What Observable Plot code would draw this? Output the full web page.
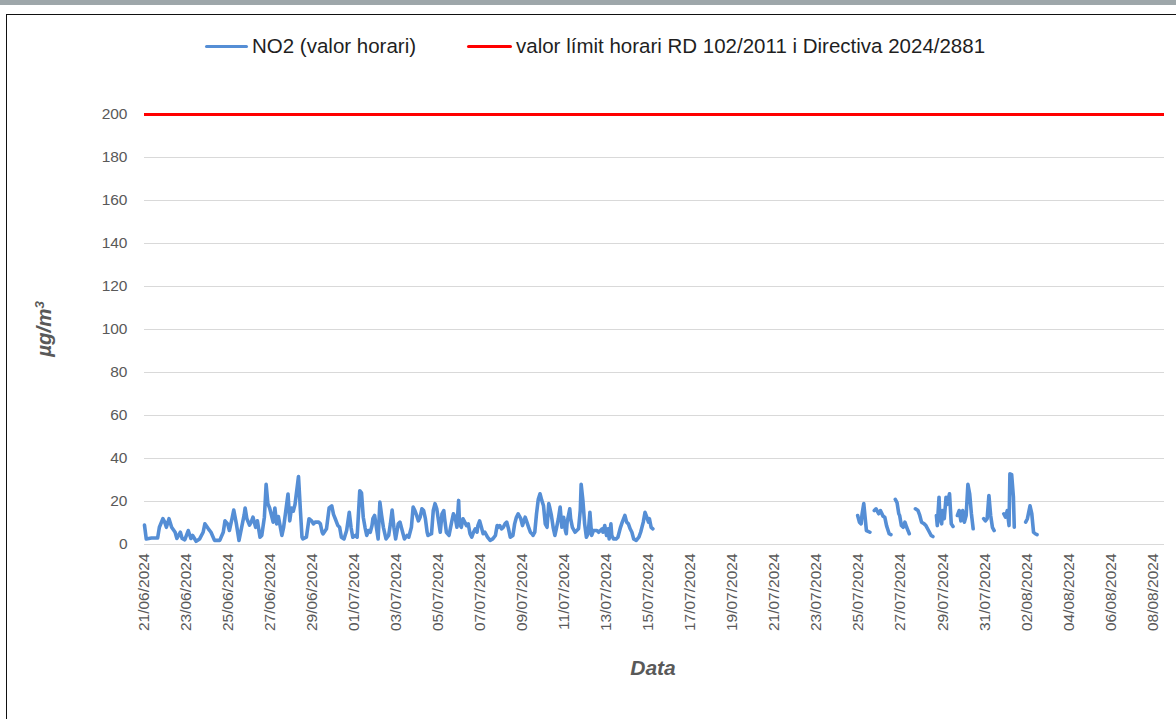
<!DOCTYPE html>
<html><head><meta charset="utf-8">
<script src="https://cdn.jsdelivr.net/npm/d3@7"></script>
<script src="https://cdn.jsdelivr.net/npm/@observablehq/plot@0.6"></script>
<style>
html,body{margin:0;padding:0;background:#fff;overflow:hidden;}
#wrap{position:relative;width:1176px;height:719px;overflow:hidden;font-family:"Liberation Sans",Arial,sans-serif;}
#topbar{position:absolute;left:0;top:0;width:1176px;height:5px;background:#9ea7aa;}
#frame{position:absolute;left:6px;top:14px;width:1250px;height:800px;border:1.5px solid #111;box-sizing:border-box;}
#chart{position:absolute;left:0;top:0;}
.leg{position:absolute;top:34px;font-size:20.5px;color:#1f1f1f;line-height:24px;white-space:nowrap;}
.sw{position:absolute;top:44.5px;height:3.5px;border-radius:1.5px;}
.ttl{position:absolute;font-weight:bold;font-style:italic;color:#595959;white-space:nowrap;}
</style></head>
<body>
<div id="wrap">
  <div id="topbar"></div>
  <div id="frame"></div>
  <div id="chart"></div>
  <div class="sw" style="left:205px;width:43px;background:#558ed5"></div>
  <div class="leg" id="leg1" style="left:252px"></div>
  <div class="sw" style="left:467px;width:45px;background:#ff0000"></div>
  <div class="leg" id="leg2" style="left:516px"></div>
  <div class="ttl" id="ytitle" style="left:44px;top:329px;font-size:20.5px;transform:translate(-50%,-50%) rotate(-90deg);"></div>
  <div class="ttl" id="xtitle" style="left:653px;top:668px;font-size:21px;transform:translate(-50%,-50%);"></div>
</div>
<script>
// ---- data ----
const seriesName = "NO2 (valor horari)";
const limitName = "valor límit horari RD 102/2011 i Directiva 2024/2881";
const yTitle = "µg/m";
const xTitle = "Data";
const startDate = "2024-06-21T00:00:00Z";
const limitValue = 200;
const yTicks = [0, 20, 40, 60, 80, 100, 120, 140, 160, 180, 200];
const xTickDates = ["2024-06-21","2024-06-23","2024-06-25","2024-06-27","2024-06-29","2024-07-01","2024-07-03","2024-07-05","2024-07-07","2024-07-09","2024-07-11","2024-07-13","2024-07-15","2024-07-17","2024-07-19","2024-07-21","2024-07-23","2024-07-25","2024-07-27","2024-07-29","2024-07-31","2024-08-02","2024-08-04","2024-08-06","2024-08-08"];
const axisEnd = "2024-08-08T13:40:00Z";
// [hours since start, NO2 µg/m3]
const juneJulyReadings = [[0,9],[2,2.6],[8,3],[15,3],[17,8],[21,12],[23,10.5],[25,8],[28,12],[31,8],[35,5.7],[37,2.8],[41,5.7],[43,2.8],[46,2.2],[50,6.5],[53,2.8],[55,4.2],[59,1.5],[63,2.6],[67,5.7],[69,9.6],[73,7.3],[76,5.7],[80,1.9],[86,1.9],[90,5.7],[92,11],[95,9.6],[97,6.5],[100,12],[102,16],[105,9.6],[108,1.9],[111,8],[114,14],[115,17],[117,12],[120,9],[122,10.5],[124,12.7],[127,8],[129,11],[132,3.4],[134,4.2],[137,12.7],[139,28],[141,19],[143,17],[147,10.4],[149,17],[151,9.6],[153,13],[157,4.2],[159,8],[164,23.5],[166,11],[168,17],[170,15.5],[172,18.6],[176,31.6],[178,17],[180,3.4],[181,2.6],[185,3.4],[188,12],[191,11],[193,9.6],[195,10.4],[199,10.4],[201,9.6],[203,5.7],[204,4.9],[208,7.3],[211,17],[214,18],[216,14],[218,12],[221,8.8],[223,8],[225,3.4],[228,2.6],[231,6.5],[234,15],[236,8],[238,3.4],[241,4.2],[243,3.4],[246,25],[248,24],[250,12.7],[252,8],[254,4.2],[256,6.5],[258,5.7],[260,8.8],[261,12],[263,13.5],[265,8],[267,2.6],[269,19.7],[271,13.5],[273,8],[276,2.6],[279,4.2],[281,9.6],[283,16],[285,8],[287,2.6],[290,9.6],[292,10.4],[295,5.7],[297,2.6],[300,4.2],[302,3.4],[305,8],[307,17.4],[309,15.8],[311,13.5],[313,11],[315,12.7],[317,16.6],[319,15.8],[321,12],[323,5.7],[324,4.2],[328,5],[330,15.8],[332,19],[334,16.6],[336,11],[338,5.7],[340,14.3],[342,15.8],[343,12],[345,5.7],[348,4.2],[351,10.4],[353,14.3],[355,12.7],[357,8],[359,20.5],[360,9.6],[362,8],[364,12],[366,10.4],[368,8.8],[370,9.6],[372,5],[374,3.4],[376,5.7],[378,7.3],[380,5.7],[381,8.8],[383,11],[385,8],[387,5],[389,5.7],[392,3.4],[395,1.9],[398,2.6],[401,4.2],[403,8.8],[404,8],[406,8.8],[408,7.3],[410,8],[412,9.6],[414,10.4],[416,7.3],[418,3.4],[421,4.2],[423,9.6],[425,12.7],[427,14.3],[430,12],[432,8.8],[435,12.7],[437,10.4],[439,8],[441,5.7],[443,4.9],[444,4.2],[446,5.7],[448,14.3],[450,21],[452,23.6],[454,20.5],[456,18],[458,9.6],[460,8],[462,19],[463,17.4],[465,13.5],[467,8],[469,4.2],[471,8],[473,12],[475,17.4],[477,8],[479,12.7],[481,6.5],[482,5],[483,10.4],[486,16.6],[487,12],[489,8],[492,5.7],[496,7.3],[498,15.8],[499,28],[501,20.5],[503,9.6],[505,3.4],[507,5],[509,15],[511,4.2],[513,6.5],[517,6.5],[519,5.7],[521,6.5],[523,7.3],[524,5.7],[526,8.8],[528,4.2],[530,7.3],[531,2.6],[533,9.6],[534,4.2],[536,2.6],[539,2.6],[541,3.4],[544,8],[546,10.4],[549,13.5],[551,10.4],[553,9.6],[555,7.3],[557,5.7],[559,2.6],[562,1.9],[565,3.4],[567,5.7],[570,10.4],[572,15],[574,12.7],[576,10.4],[577,12],[579,8],[581,7.3]];
const day25July = [[815,13.5],[817,10.4],[819,9.6],[820,14],[822,19],[825,6.5],[829,5.7]];
const day26July = [[834,15.8],[836,16.6],[839,14.3],[841,15.8],[844,13.2],[846,12.7],[848,8.8],[851,5],[853,4.6]];
const day27July = [[858,21],[860,19.5],[862,14.3],[863,13.5],[865,8.8],[867,8],[869,10.4],[871,8],[874,5]];
const day28July = [[881,16.6],[884,15.8],[886,13.5],[888,10.4],[891,9.6],[893,8.8],[896,6.5],[899,4.2],[901,3.7]];
const day29July = [[905,13.5],[906,8.8],[908,22],[909,12.7],[911,9.6],[912,15.8],[914,12],[916,22],[917,18.6],[920,23.6],[922,9.6],[924,8.4]];
const day30July = [[929,13.5],[931,15.8],[933,11],[935,15.8],[937,10.4],[939,13.5],[941,28],[943,23.6],[945,14.3],[947,7.3]];
const day31July = [[959,12],[961,11],[963,12],[965,22.8],[967,13.5],[969,8],[971,6.5]];
const day01Aug = [[982,14.3],[984,12.7],[986,15.8],[988,8.8],[989,32.9],[991,32.5],[993,22],[994,8]];
const day02Aug = [[1007,10.4],[1009,12],[1012,18],[1014,14.3],[1016,5.7],[1018,5],[1020,4.6]];

// ---- build ----
const t0 = new Date(startDate).getTime();
const segments = [juneJulyReadings, day25July, day26July, day27July, day28July, day29July, day30July, day31July, day01Aug, day02Aug];
const data = segments.flatMap((seg, i) => seg.map(([h, v]) => ({date: new Date(t0 + h * 3600000), value: v, seg: i})));
const tickDates = xTickDates.map(s => new Date(s + "T00:00:00Z"));

const chart = Plot.plot({
  width: 1176, height: 719,
  marginLeft: 144, marginRight: 12, marginTop: 114, marginBottom: 175,
  style: {fontFamily: "'Liberation Sans', Arial, sans-serif", fontSize: "15.5px", color: "#595959", background: "transparent", overflow: "visible"},
  x: {type: "utc", domain: [new Date(startDate), new Date(axisEnd)], ticks: tickDates, tickFormat: d3.utcFormat("%d/%m/%Y"), tickRotate: -90, tickSize: 0, tickPadding: 9, label: null},
  y: {domain: [0, 200], ticks: yTicks, tickSize: 0, tickPadding: 17, label: null},
  marks: [
    Plot.gridY(yTicks, {stroke: "#d9d9d9", strokeOpacity: 1, strokeWidth: 1.2}),
    Plot.line(data, {x: "date", y: "value", z: "seg", stroke: "#558ed5", strokeWidth: 3.6, strokeLinejoin: "round", strokeLinecap: "round"}),
    Plot.ruleY([limitValue], {stroke: "#ff0000", strokeWidth: 3})
  ]
});
document.getElementById("chart").appendChild(chart);
document.getElementById("leg1").textContent = seriesName;
document.getElementById("leg2").textContent = limitName;
document.getElementById("ytitle").innerHTML = yTitle + "<sup style='font-size:0.65em'>3</sup>";
document.getElementById("xtitle").textContent = xTitle;
</script>
</body></html>
